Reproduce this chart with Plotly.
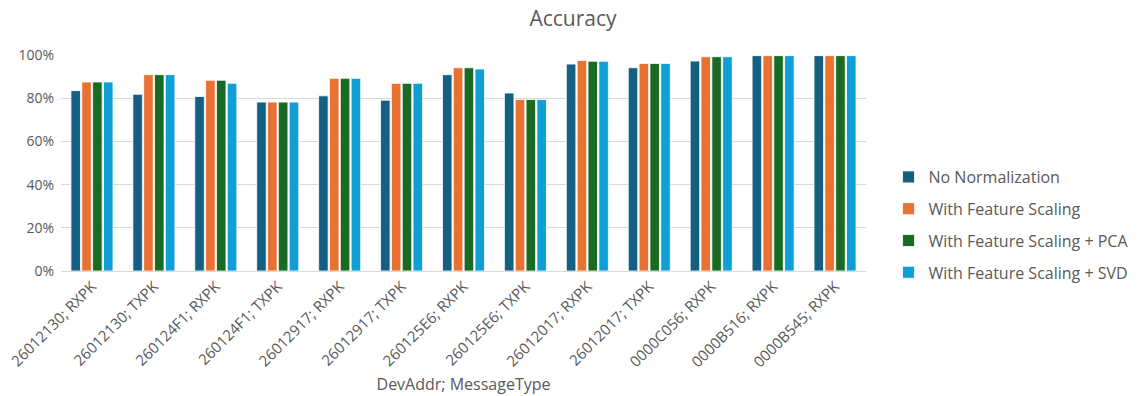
import plotly.graph_objects as go

categories = [
    "26012130; RXPK", "26012130; TXPK", "260124F1; RXPK", "260124F1; TXPK",
    "26012917; RXPK", "26012917; TXPK", "260125E6; RXPK", "260125E6; TXPK",
    "26012017; RXPK", "26012017; TXPK", "0000C056; RXPK", "0000B516; RXPK",
    "0000B545; RXPK",
]

no_normalization = [83.5, 81.8, 80.8, 78.2, 81.1, 79.1, 90.9, 82.4, 95.8, 94.1, 97.2, 99.7, 99.7]
feature_scaling = [87.5, 90.9, 88.3, 78.2, 89.2, 86.9, 94.1, 79.4, 97.5, 96.1, 99.2, 99.7, 99.7]
feature_scaling_pca = [87.5, 90.9, 88.3, 78.2, 89.2, 86.9, 94.1, 79.4, 97.1, 96.1, 99.2, 99.7, 99.7]
feature_scaling_svd = [87.5, 90.9, 86.9, 78.2, 89.2, 86.9, 93.5, 79.4, 97.1, 96.1, 99.2, 99.7, 99.7]

series = [
    ("No Normalization", no_normalization, "#156082"),
    ("With Feature Scaling", feature_scaling, "#E97132"),
    ("With Feature Scaling + PCA", feature_scaling_pca, "#196B24"),
    ("With Feature Scaling + SVD", feature_scaling_svd, "#0F9ED5"),
]

FONT = "Open Sans"
GREY = "#595959"

fig = go.Figure()
for i, (name, values, color) in enumerate(series):
    fig.add_trace(go.Bar(
        x=categories, y=values, name=name, legendgroup=f"g{i}",
        marker=dict(color=color, line=dict(color="white", width=0.8)),
    ))

fig.update_layout(
    width=1146, height=396,
    margin=dict(l=61, r=257, t=55, b=125),
    paper_bgcolor="white", plot_bgcolor="white",
    font=dict(family=FONT, color=GREY, size=14),
    title=dict(text="Accuracy", x=0.5, xref="container", xanchor="center",
               y=0.952, yanchor="middle",
               font=dict(family=FONT, size=21, color=GREY)),
    barmode="group", bargap=0.3, bargroupgap=0.12,
    legend=dict(x=1.028, xanchor="left", y=0.213, yanchor="middle",
                font=dict(family=FONT, size=16, color=GREY),
                tracegroupgap=8, itemwidth=30),
    showlegend=True,
)
fig.update_xaxes(
    tickangle=-45, showline=True, linecolor="#D9D9D9", linewidth=1,
    showgrid=False, ticks="", tickfont=dict(size=15, color=GREY),
    automargin=False,
    title=dict(text="DevAddr; MessageType", font=dict(size=16, color=GREY), standoff=8),
)
fig.update_yaxes(
    range=[0, 100], dtick=20, ticksuffix="%", showgrid=True,
    gridcolor="#D9D9D9", gridwidth=1, zeroline=False, showline=False,
    tickfont=dict(size=14, color=GREY), ticklabelstandoff=6, automargin=False,
)

fig.write_html("out.html")
